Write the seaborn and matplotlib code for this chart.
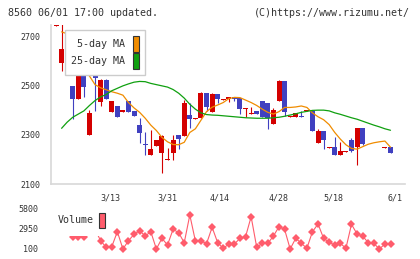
import numpy as np
import pandas as pd
import matplotlib
matplotlib.use('Agg')
import matplotlib.pyplot as plt
import seaborn as sns
from matplotlib.patches import Patch

# daily candles (index 0 = oldest shown day)
opens = [2742, 2594, 2649, 2499, 2446, 2540, 2298, 2540, 2433, 2524,
         2394, 2418, 2395, 2438, 2397, 2340, 2261, 2218, 2255, 2228,
         2196, 2228, 2300, 2296, 2381, 2363, 2370, 2472, 2394, 2467,
         2443, 2445, 2453, 2450, 2406, 2386, 2396, 2438, 2430, 2346,
         2439, 2520, 2375, 2374, 2379, 2396, 2398, 2268, 2316, 2247,
         2249, 2218, 2232, 2279, 2252, 2329, 2261, 2261, 2261, 2247,
         2249]
closes = [2800, 2650, 2553, 2446, 2540, 2496, 2388, 2530, 2524, 2446,
          2438, 2374, 2400, 2394, 2377, 2306, 2257, 2243, 2279, 2297,
          2200, 2279, 2282, 2431, 2363, 2367, 2472, 2412, 2467, 2446,
          2447, 2453, 2445, 2404, 2410, 2390, 2386, 2374, 2367, 2401,
          2520, 2393, 2379, 2388, 2375, 2400, 2317, 2316, 2279, 2251,
          2218, 2234, 2236, 2234, 2329, 2263, 2265, 2265, 2265, 2251,
          2228]
highs = [2850, 2800, 2655, 2500, 2545, 2542, 2400, 2595, 2526, 2526,
         2440, 2418, 2400, 2438, 2397, 2367, 2313, 2320, 2280, 2300,
         2248, 2300, 2300, 2442, 2429, 2367, 2476, 2472, 2472, 2467,
         2447, 2453, 2453, 2450, 2410, 2412, 2396, 2438, 2430, 2408,
         2524, 2520, 2379, 2388, 2397, 2400, 2398, 2324, 2316, 2251,
         2293, 2272, 2236, 2286, 2330, 2329, 2265, 2265, 2265, 2251,
         2249]
lows = [2742, 2560, 2553, 2365, 2446, 2456, 2298, 2398, 2419, 2446,
        2394, 2374, 2395, 2394, 2377, 2268, 2218, 2218, 2255, 2146,
        2196, 2198, 2243, 2296, 2329, 2363, 2370, 2398, 2394, 2429,
        2443, 2434, 2438, 2384, 2374, 2386, 2386, 2374, 2325, 2346,
        2439, 2377, 2375, 2374, 2374, 2396, 2317, 2268, 2243, 2247,
        2218, 2218, 2232, 2230, 2177, 2259, 2261, 2261, 2261, 2247,
        2228]
ma5 = [np.nan, 2720, 2712, 2680, 2620, 2572, 2540, 2505, 2492, 2484,
       2476, 2470, 2462, 2432, 2410, 2392, 2368, 2340, 2318, 2290,
       2272, 2261, 2260, 2270, 2310, 2325, 2360, 2395, 2413, 2422,
       2432, 2448, 2453, 2452, 2442, 2432, 2420, 2405, 2392, 2385,
       2395, 2412, 2412, 2414, 2418, 2412, 2390, 2374, 2362, 2342,
       2310, 2283, 2260, 2245, 2242, 2252, 2262, 2268, 2272, 2275,
       2250]
ma25 = [np.nan, 2327, 2352, 2372, 2385, 2398, 2420, 2440, 2455, 2465,
        2480, 2490, 2500, 2508, 2515, 2518, 2517, 2510, 2505, 2500,
        2495, 2485, 2470, 2450, 2425, 2405, 2390, 2383, 2381, 2380,
        2378, 2376, 2374, 2372, 2370, 2369, 2368, 2368, 2368, 2370,
        2372, 2376, 2381, 2386, 2392, 2396, 2400, 2401, 2401, 2398,
        2390, 2384, 2377, 2370, 2364, 2356, 2348, 2340, 2333, 2325,
        2319]
volume = [3500, 3500, 3500, 1880, 1880, 1880, 2900, 2900, 1283, 342,
          428, 2565, 100, 1283, 2195, 2708, 1953, 2565, 100, 1625,
          670, 2907, 2423, 998, 4945, 1240, 1260, 860, 3192, 998,
          200, 812, 812, 1625, 1853, 4703, 342, 912, 912, 1953,
          3278, 2907, 100, 1625, 912, 200, 2565, 3663, 1625, 1055,
          670, 912, 200, 3620, 2238, 1953, 998, 912, 100, 812,
          812]
date_labels = ['3/13', '3/31', '4/14', '4/28', '5/18', '6/1']
date_pos = [9.8, 19.9, 29.4, 39.9, 49.7, 60.8]
price_ticks = [2100, 2300, 2500, 2700]
vol_ticks = [100, 2950, 5800]

df = pd.DataFrame({'day': np.arange(len(opens)), 'open': opens, 'close': closes,
                   'high': highs, 'low': lows, 'ma5': ma5, 'ma25': ma25,
                   'volume': volume})

sns.set_style('white')
plt.rcParams['font.family'] = ['DejaVu Sans Mono']
TXT = '#333333'
GRID = '#d8d8d8'

fig = plt.figure(figsize=(4.2, 2.59), dpi=100)
W, H = 420, 259
ax = fig.add_axes([51 / W, 1 - 184 / H, 354 / W, 159 / H])
axv = fig.add_axes([51 / W, 1 - 252 / H, 354 / W, 47 / H])

# candles
up = df['close'] >= df['open']
cols = np.where(up, '#d40000', '#4040c0')
ax.vlines(df['day'], df['low'], df['high'], colors=cols, lw=0.8, zorder=2)
ax.bar(df['day'], (df['close'] - df['open']).abs(),
       bottom=np.minimum(df['open'], df['close']), width=0.9,
       color=cols, linewidth=0, zorder=2)

sns.lineplot(data=df, x='day', y='ma5', ax=ax, color='#f08c00', lw=0.9, zorder=3)
sns.lineplot(data=df, x='day', y='ma25', ax=ax, color='#10a010', lw=0.9, zorder=3)

ax.set_xlim(-0.9, 62.6)
ax.set_ylim(2100, 2748)
ax.set_xlabel('')
ax.set_ylabel('')
ax.set_yticks(price_ticks)
ax.set_yticklabels([str(t) for t in price_ticks], fontsize=6, color=TXT)
ax.set_xticks(np.linspace(-0.9, 62.6, 12))
ax.set_xticklabels([])
ax.set_xticks(date_pos, minor=True)
ax.set_xticklabels(date_labels, minor=True, fontsize=6, color=TXT)
ax.tick_params(axis='both', which='major', direction='inout', length=5,
               width=1, color=GRID)
ax.tick_params(axis='x', which='minor', length=0, pad=6.5)
ax.tick_params(axis='y', pad=5)
for s in ['top', 'right']:
    ax.spines[s].set_visible(False)
for s in ['left', 'bottom']:
    ax.spines[s].set_color(GRID)
    ax.spines[s].set_linewidth(1.2)

leg = ax.legend(handles=[Patch(facecolor='#f08c00', edgecolor='#333333', lw=0.8),
                         Patch(facecolor='#10a010', edgecolor='#333333', lw=0.8)],
                labels=[' 5-day MA', '25-day MA'], loc='upper left',
                bbox_to_anchor=(0.04, 0.969), borderaxespad=0, markerfirst=False,
                fontsize=7.2, handlelength=0.6, handleheight=2.05,
                handletextpad=0.75, labelspacing=0.15, borderpad=0.6,
                fancybox=False, framealpha=1, edgecolor='#cccccc')
for t in leg.get_texts():
    t.set_color(TXT)
leg.set_zorder(5)

# volume panel
sns.lineplot(data=df, x='day', y='volume', ax=axv, color='#ff5c6c', lw=0.8,
             marker='D', markersize=4.5, markeredgewidth=0)
axv.set_xlim(-0.9, 62.6)
axv.set_ylim(-327.5, 6370)
axv.set_xlabel('')
axv.set_ylabel('')
axv.set_xticks([])
axv.set_yticks(vol_ticks)
axv.set_yticklabels([str(t) for t in vol_ticks], fontsize=6, color=TXT)
axv.tick_params(axis='y', length=0, pad=9)
for s in axv.spines.values():
    s.set_visible(False)
vleg = axv.legend(handles=[Patch(facecolor='#ff5c6c', edgecolor='#333333', lw=0.8)],
                  labels=['Volume'], loc='upper left',
                  bbox_to_anchor=(-0.005, 1.01), borderaxespad=0, markerfirst=False,
                  fontsize=7.2, handlelength=0.6, handleheight=2.0,
                  handletextpad=0.6, borderpad=0.8, fancybox=False,
                  framealpha=1, edgecolor='none')
for t in vleg.get_texts():
    t.set_color(TXT)
vleg.set_zorder(5)

fig.text(8 / W, 1 - 12.5 / H, '8560 06/01 17:00 updated.', fontsize=7.2,
         color=TXT, va='center', ha='left')
fig.text(410 / W, 1 - 12.5 / H, '(C)https://www.rizumu.net/', fontsize=7.2,
         color=TXT, va='center', ha='right')

fig.savefig('out.png', dpi=100)
